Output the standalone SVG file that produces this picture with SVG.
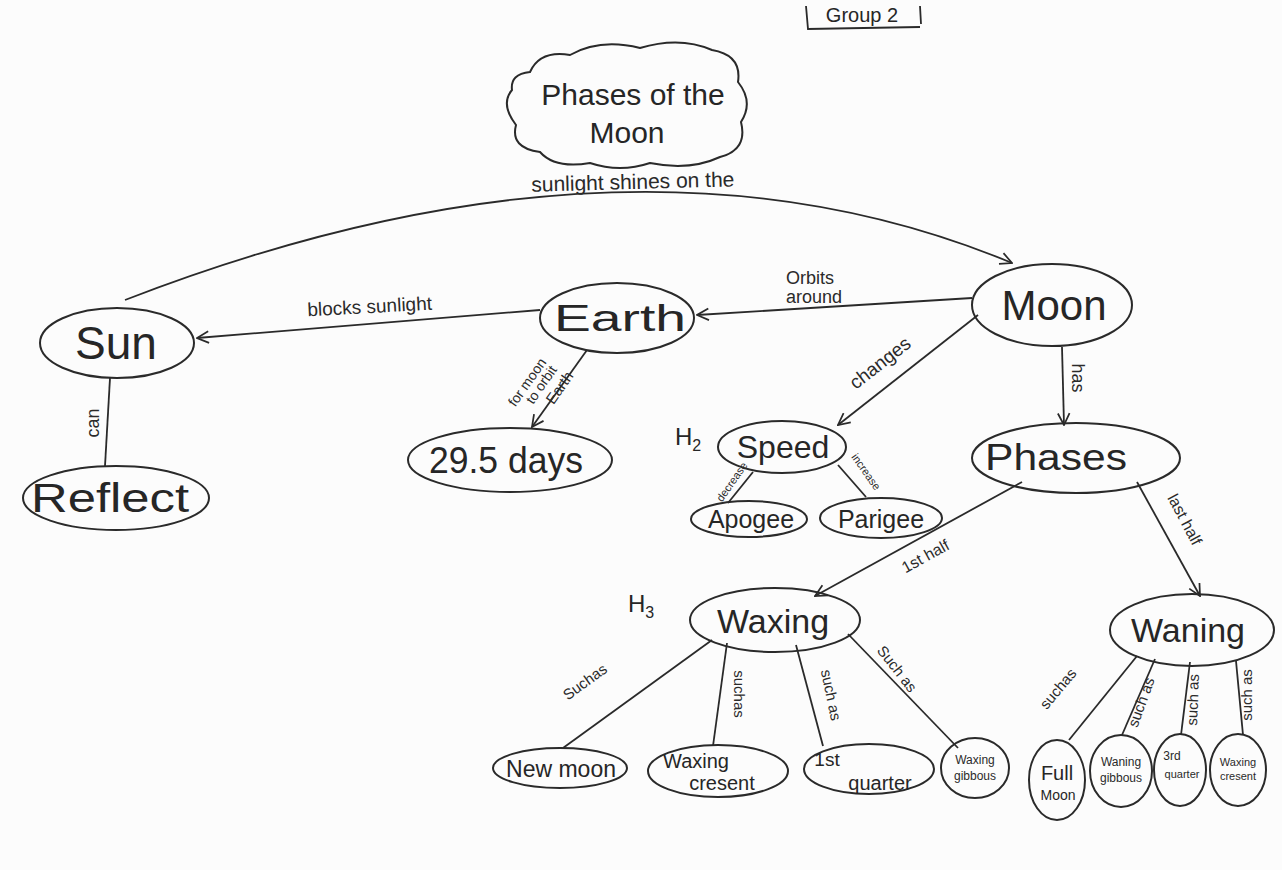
<svg xmlns="http://www.w3.org/2000/svg" width="1282" height="870" viewBox="0 0 1282 870">
<defs>
<marker id="arr" viewBox="0 0 12 12" refX="11" refY="6" markerWidth="14" markerHeight="14" markerUnits="userSpaceOnUse" orient="auto">
<path d="M1,1 L11,6 L1,11" fill="none" stroke="#2a2a2a" stroke-width="1.5"/>
</marker>
<style>
.n{fill:none;stroke:#2a2a2a;stroke-width:2}
.c{fill:none;stroke:#2a2a2a;stroke-width:1.8}
.t{font-family:"Liberation Sans",Arial,sans-serif;fill:#262626;text-anchor:middle}
.l{font-family:"Liberation Sans",Arial,sans-serif;fill:#2a2a2a;text-anchor:middle}
.s{font-family:"Liberation Sans",Arial,sans-serif;fill:#2a2a2a;text-anchor:middle}
</style>
</defs>
<rect width="1282" height="870" fill="#fcfcfc"/>

<g id="group-label">
<path class="c" d="M806,6 L808,29 L920,27 M920,6 L921,24"/>
<text class="t" x="862" y="22" font-size="20">Group 2</text>
</g>

<g id="connectors">
<path class="c" d="M125,300 Q631,104 1012,263" marker-end="url(#arr)"/>
<text class="l" x="633" y="189" font-size="21" transform="rotate(-1.5 633 189)">sunlight shines on the</text>
<path class="c" d="M540,310 L197,338" marker-end="url(#arr)"/>
<text class="l" x="370" y="313" font-size="19" transform="rotate(-3 370 313)">blocks sunlight</text>
<path class="c" d="M972,298 L697,315" marker-end="url(#arr)"/>
<text class="l" x="810" y="284" font-size="18">Orbits</text>
<text class="l" x="814" y="303" font-size="18">around</text>
<path class="c" d="M587,350 L532,427" marker-end="url(#arr)"/>
<g transform="translate(546,388) rotate(-55)">
<text class="s" x="-6" y="-14" font-size="14">for moon</text>
<text class="s" x="0" y="-1" font-size="14">to orbit</text>
<text class="s" x="8" y="16" font-size="15">Earth</text>
</g>
<path class="c" d="M110,378 L105,466"/>
<text class="l" x="0" y="0" font-size="18" transform="translate(99,423) rotate(-90)">can</text>
<path class="c" d="M978,315 L838,425" marker-end="url(#arr)"/>
<text class="l" x="0" y="0" font-size="19" transform="translate(884,368) rotate(-38)">changes</text>
<path class="c" d="M1062,347 L1064,425" marker-end="url(#arr)"/>
<text class="l" x="0" y="0" font-size="18" transform="translate(1072,378) rotate(90)">has</text>
<path class="c" d="M753,472 L728,503"/>
<text class="s" x="0" y="0" font-size="11" transform="translate(735,484) rotate(-55)">decrease</text>
<path class="c" d="M838,465 L866,497"/>
<text class="s" x="0" y="0" font-size="11" transform="translate(863,474) rotate(55)">increase</text>
<path class="c" d="M1022,482 L815,596" marker-end="url(#arr)"/>
<text class="l" x="0" y="0" font-size="16" transform="translate(928,561) rotate(-29)">1st half</text>
<path class="c" d="M1137,482 L1200,596" marker-end="url(#arr)"/>
<text class="l" x="0" y="0" font-size="16" transform="translate(1180,522) rotate(62)">last half</text>
<path class="c" d="M712,640 L563,748"/>
<text class="l" x="0" y="0" font-size="15" transform="translate(588,686) rotate(-36)">Suchas</text>
<path class="c" d="M727,643 L713,746"/>
<text class="l" x="0" y="0" font-size="15" transform="translate(734,694) rotate(90)">suchas</text>
<path class="c" d="M796,645 L823,746"/>
<text class="l" x="0" y="0" font-size="15" transform="translate(826,696) rotate(78)">such as</text>
<path class="c" d="M848,634 L958,748"/>
<text class="l" x="0" y="0" font-size="15" transform="translate(893,672) rotate(52)">Such as</text>
<path class="c" d="M1137,656 L1069,740"/>
<text class="l" x="0" y="0" font-size="15" transform="translate(1062,692) rotate(-50)">suchas</text>
<path class="c" d="M1155,659 L1122,735"/>
<text class="l" x="0" y="0" font-size="15" transform="translate(1146,704) rotate(-70)">such as</text>
<path class="c" d="M1190,662 L1181,735"/>
<text class="l" x="0" y="0" font-size="15" transform="translate(1198,700) rotate(-88)">such as</text>
<path class="c" d="M1236,661 L1243,735"/>
<text class="l" x="0" y="0" font-size="15" transform="translate(1252,695) rotate(-90)">such as</text>
</g>

<g id="n-title">
<path class="n" d="M530,72 Q540,50 570,55 Q600,38 640,48 Q680,36 712,50 Q742,55 738,82 Q754,102 741,122 Q748,150 720,157 Q690,171 650,163 Q620,173 590,163 Q555,169 540,152 Q510,148 516,125 Q500,104 512,90 Q510,74 530,72 Z"/>
<text class="t" x="633" y="105" font-size="30">Phases of the</text>
<text class="t" x="627" y="143" font-size="30">Moon</text>
</g>
<g id="n-sun"><ellipse class="n" cx="117" cy="343" rx="77" ry="35"/><text class="t" x="116" y="359" font-size="46">Sun</text></g>
<g id="n-reflect"><ellipse class="n" cx="116" cy="498" rx="93" ry="32"/><text class="t" x="110" y="512" font-size="40" textLength="158" lengthAdjust="spacingAndGlyphs">Reflect</text></g>
<g id="n-earth"><ellipse class="n" cx="617" cy="318" rx="77" ry="35"/><text class="t" x="620" y="331" font-size="36" textLength="132" lengthAdjust="spacingAndGlyphs">Earth</text></g>
<g id="n-days"><ellipse class="n" cx="510" cy="460" rx="102" ry="32"/><text class="t" x="506" y="473" font-size="36" textLength="154" lengthAdjust="spacingAndGlyphs">29.5 days</text></g>
<g id="n-moon"><ellipse class="n" cx="1052" cy="305" rx="80" ry="41"/><text class="t" x="1054" y="320" font-size="42">Moon</text></g>
<g id="n-speed"><ellipse class="n" cx="782" cy="447" rx="64" ry="26"/><text class="t" x="783" y="458" font-size="32">Speed</text></g>
<text class="t" x="688" y="445" font-size="24">H<tspan font-size="16" dy="6">2</tspan></text>
<g id="n-apogee"><ellipse class="n" cx="749" cy="519" rx="58" ry="18"/><text class="t" x="751" y="528" font-size="25">Apogee</text></g>
<g id="n-parigee"><ellipse class="n" cx="881" cy="518" rx="61" ry="20"/><text class="t" x="881" y="528" font-size="25">Parigee</text></g>
<g id="n-phases"><ellipse class="n" cx="1076" cy="458" rx="104" ry="35"/><text class="t" x="1056" y="470" font-size="36" textLength="142" lengthAdjust="spacingAndGlyphs">Phases</text></g>
<g id="n-waxing"><ellipse class="n" cx="775" cy="620" rx="85" ry="32"/><text class="t" x="773" y="633" font-size="34">Waxing</text></g>
<text class="t" x="641" y="612" font-size="24">H<tspan font-size="16" dy="6">3</tspan></text>
<g id="n-waning"><ellipse class="n" cx="1192" cy="630" rx="82" ry="36"/><text class="t" x="1188" y="642" font-size="34">Waning</text></g>
<g id="n-newmoon"><ellipse class="n" cx="560" cy="768" rx="67" ry="20"/><text class="t" x="561" y="777" font-size="23">New moon</text></g>
<g id="n-waxcres"><ellipse class="n" cx="718" cy="771" rx="70" ry="26"/><text class="t" x="696" y="768" font-size="20">Waxing</text><text class="t" x="722" y="790" font-size="20">cresent</text></g>
<g id="n-first"><ellipse class="n" cx="869" cy="769" rx="65" ry="25"/><text class="t" x="827" y="766" font-size="19">1st</text><text class="t" x="880" y="790" font-size="20">quarter</text></g>
<g id="n-waxgib"><ellipse class="n" cx="975" cy="768" rx="34" ry="30"/><text class="s" x="975" y="764" font-size="12">Waxing</text><text class="s" x="975" y="780" font-size="12">gibbous</text></g>
<g id="n-full"><ellipse class="n" cx="1057" cy="780" rx="28" ry="40"/><text class="t" x="1057" y="780" font-size="20">Full</text><text class="t" x="1058" y="800" font-size="14">Moon</text></g>
<g id="n-wangib"><ellipse class="n" cx="1121" cy="771" rx="31" ry="36"/><text class="s" x="1121" y="766" font-size="12">Waning</text><text class="s" x="1121" y="782" font-size="12">gibbous</text></g>
<g id="n-third"><ellipse class="n" cx="1180" cy="770" rx="26" ry="36"/><text class="s" x="1172" y="760" font-size="12">3rd</text><text class="s" x="1182" y="778" font-size="11">quarter</text></g>
<g id="n-wancres"><ellipse class="n" cx="1238" cy="770" rx="28" ry="36"/><text class="s" x="1238" y="766" font-size="11">Waxing</text><text class="s" x="1238" y="780" font-size="11">cresent</text></g>
</svg>
